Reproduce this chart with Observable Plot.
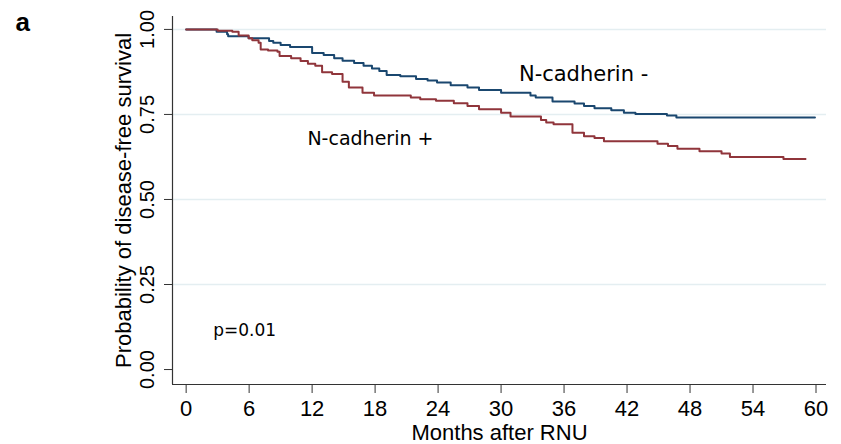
<!DOCTYPE html>
<html>
<head>
<meta charset="utf-8">
<script src="https://cdn.jsdelivr.net/npm/d3@7"></script>
<script src="https://cdn.jsdelivr.net/npm/@observablehq/plot@0.6"></script>
<style>
  html, body { margin: 0; padding: 0; background: #fff; }
  #chart svg { display: block; }
</style>
</head>
<body>
<div id="chart"></div>
<script>
// ---- Data ----
const seriesNames = ["N-cadherin -", "N-cadherin +"];
const seriesColors = ["#1a476f", "#90353b"];

// N-cadherin - (step times in months, survival after the step)
const negTimes = [0, 2.9, 3.9, 4.0, 5.95, 7.9, 8.3, 9.0, 9.9, 12.0, 13.1, 14.1, 14.9, 16.0, 16.9, 17.7, 18.4, 19.1, 20.4, 21.9, 23.0, 23.9, 25.2, 26.8, 27.9, 30.0, 32.8, 33.3, 34.9, 37.0, 37.9, 38.9, 40.5, 41.7, 42.8, 45.8, 46.7];
const negSurv  = [1.0, 0.993, 0.986, 0.980, 0.974, 0.966, 0.961, 0.954, 0.948, 0.931, 0.925, 0.915, 0.908, 0.901, 0.893, 0.885, 0.878, 0.866, 0.862, 0.854, 0.850, 0.844, 0.836, 0.829, 0.822, 0.814, 0.806, 0.800, 0.788, 0.782, 0.775, 0.768, 0.762, 0.755, 0.751, 0.747, 0.741];
const negEnd = 59.9;

// N-cadherin +
const posTimes = [0, 3.0, 4.4, 5.0, 5.95, 6.3, 6.9, 7.1, 7.8, 8.7, 8.9, 10.0, 10.9, 11.6, 12.3, 12.95, 13.9, 14.9, 15.5, 16.8, 17.9, 21.4, 22.3, 23.8, 25.5, 26.8, 27.9, 30.0, 30.9, 33.8, 34.3, 35.0, 36.8, 37.9, 38.9, 39.8, 44.9, 45.9, 46.8, 48.9, 51.0, 51.8, 56.9];
const posSurv  = [1.0, 0.996, 0.993, 0.982, 0.974, 0.968, 0.961, 0.941, 0.938, 0.934, 0.922, 0.915, 0.907, 0.899, 0.893, 0.874, 0.869, 0.846, 0.829, 0.814, 0.806, 0.800, 0.795, 0.790, 0.783, 0.775, 0.765, 0.755, 0.744, 0.734, 0.726, 0.721, 0.696, 0.686, 0.681, 0.671, 0.664, 0.657, 0.649, 0.642, 0.635, 0.625, 0.619];
const posEnd = 59.0;

const xTicks = [0, 6, 12, 18, 24, 30, 36, 42, 48, 54, 60];
const yTicks = [0, 0.25, 0.5, 0.75, 1];
const yGrid = [0.25, 0.5, 0.75, 1];
const xDomain = [-1.3, 61];
const yDomain = [-0.044, 1.038];

const labelText = ["N-cadherin -", "N-cadherin +"];
const labelX = [31.7, 11.55];
const labelY = [0.869, 0.679];
const labelSize = [21, 19];

const pText = "p=0.01";
const pX = 2.58;
const pY = 0.115;

const xTitle = "Months after RNU";
const yTitle = "Probability of disease-free survival";
const panelLetter = "a";

// ---- Build tables ----
function km(times, surv, end, group) {
  const rows = times.map((t, i) => ({t, s: surv[i], group}));
  rows.push({t: end, s: surv[surv.length - 1], group});
  return rows;
}
const curves = [
  ...km(negTimes, negSurv, negEnd, seriesNames[0]),
  ...km(posTimes, posSurv, posEnd, seriesNames[1])
];
const labels = labelText.map((text, i) => ({text, x: labelX[i], y: labelY[i], size: labelSize[i]}));

const axisFont = "'Liberation Sans', Arial, Helvetica, sans-serif";
const noteFont = "'DejaVu Sans', Verdana, sans-serif";

const chart = Plot.plot({
  width: 841,
  height: 444,
  marginLeft: 172,
  marginRight: 15,
  marginTop: 16,
  marginBottom: 60,
  x: {domain: xDomain},
  y: {domain: yDomain},
  color: {domain: seriesNames, range: seriesColors},
  style: {fontFamily: axisFont, background: "#fff", color: "#000"},
  marks: [
    Plot.gridY(yGrid, {stroke: "#e4eef1", strokeOpacity: 1, strokeWidth: 1.5}),
    Plot.ruleX([xDomain[0]], {stroke: "#333", strokeWidth: 1.2}),
    Plot.ruleY([yDomain[0]], {stroke: "#333", strokeWidth: 1.2}),
    Plot.axisX(xTicks, {tickSize: 9, tickPadding: 7, fontSize: 22, stroke: "#333", fill: "#000", label: null}),
    Plot.axisY(yTicks, {tickSize: 8, tickFormat: () => "", stroke: "#333", label: null}),
    Plot.text(yTicks, {y: d => d, text: d => d.toFixed(2), frameAnchor: "left", dx: -24.5, rotate: -90, textAnchor: "middle", lineAnchor: "middle", fontSize: 20, fill: "#000"}),
    Plot.line(curves, {x: "t", y: "s", stroke: "group", z: "group", curve: "step-after", strokeWidth: 2}),
    Plot.text(labels, {x: "x", y: "y", text: "text", fontSize: d => d.size, textAnchor: "start", lineAnchor: "middle", fontFamily: noteFont, fill: "#000"}),
    Plot.text([pText], {x: pX, y: pY, text: d => d, textAnchor: "start", lineAnchor: "middle", fontSize: 17, fontFamily: noteFont, fill: "#000"}),
    Plot.text([yTitle], {frameAnchor: "left", dx: -49, rotate: -90, text: d => d, textAnchor: "middle", lineAnchor: "middle", fontSize: 22, fill: "#000"}),
    Plot.text([xTitle], {frameAnchor: "bottom", dy: 48, text: d => d, textAnchor: "middle", lineAnchor: "middle", fontSize: 22, fill: "#000"}),
    Plot.text([panelLetter], {frameAnchor: "top-left", dx: -157, dy: -4, text: d => d, textAnchor: "start", lineAnchor: "top", fontSize: 26, fontWeight: "bold", fill: "#000"})
  ]
});
document.getElementById("chart").appendChild(chart);
</script>
</body>
</html>
